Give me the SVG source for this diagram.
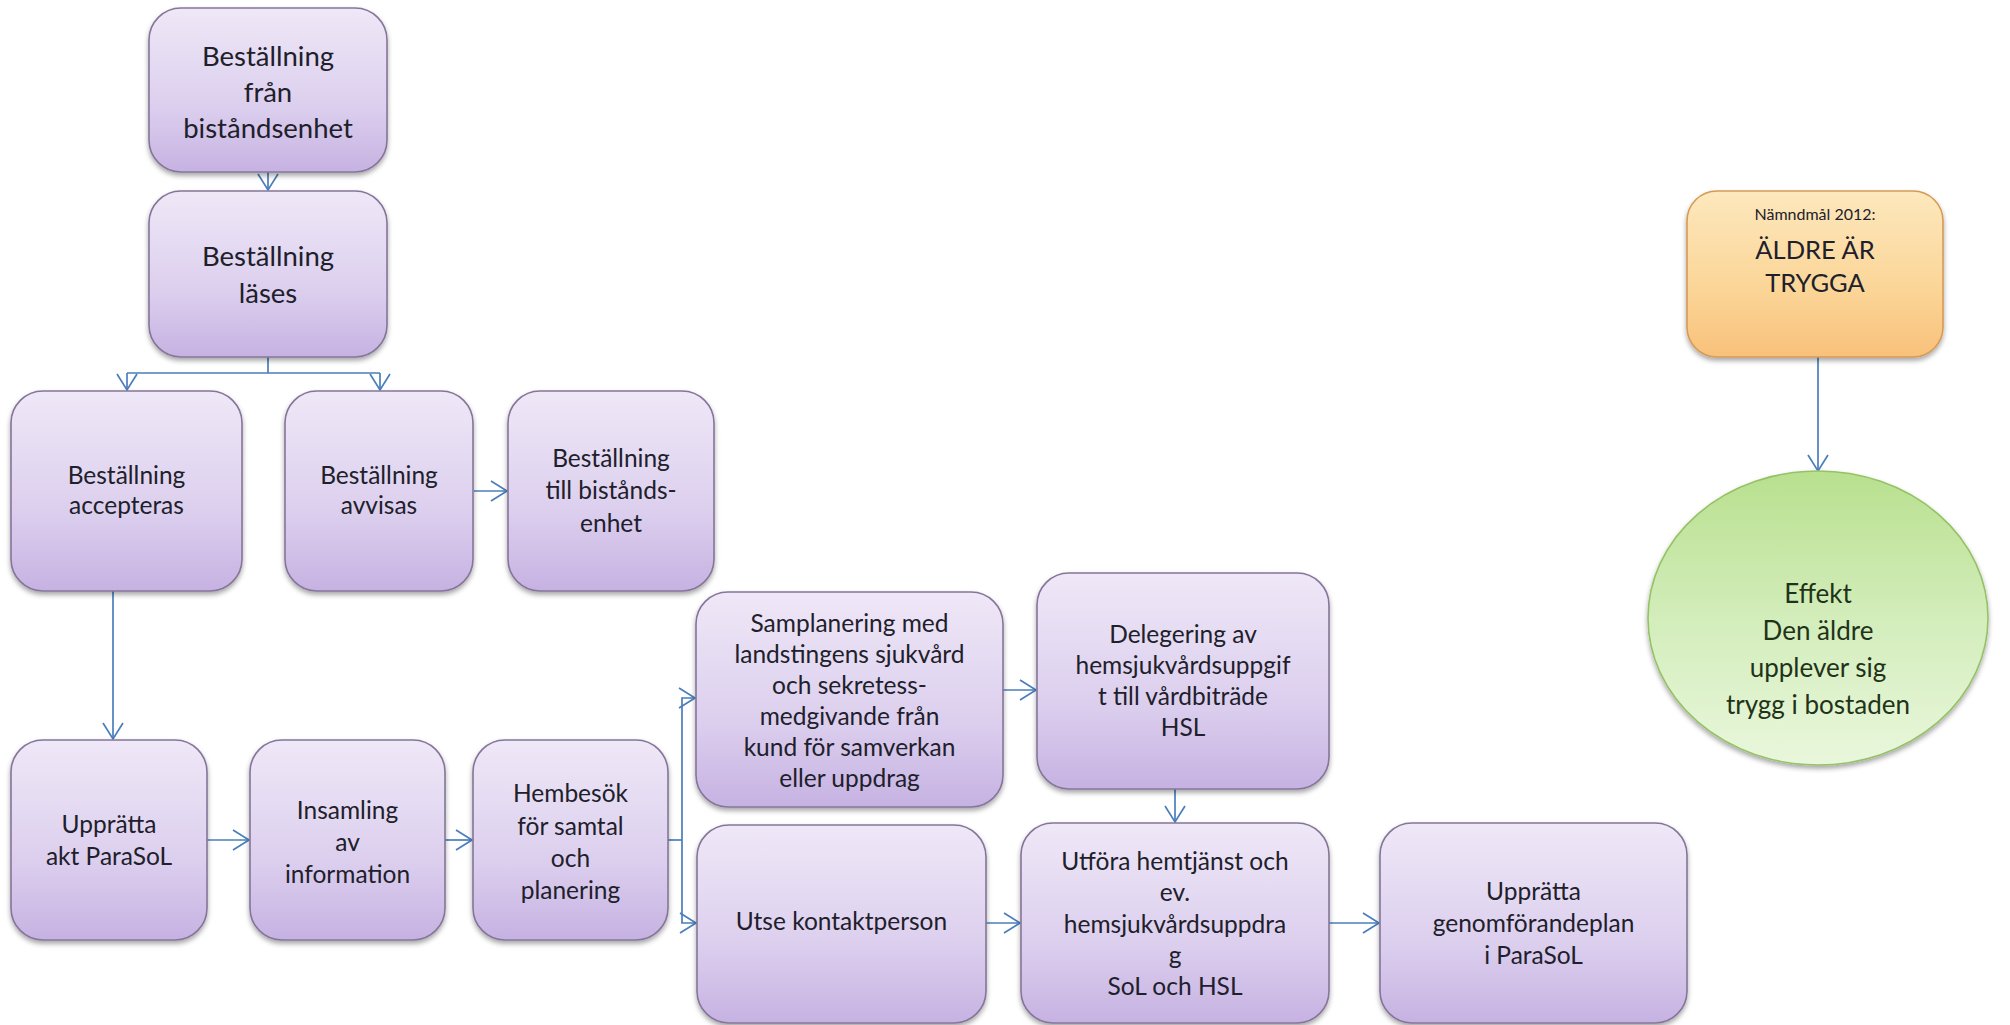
<svg xmlns="http://www.w3.org/2000/svg" width="2010" height="1025" viewBox="0 0 2010 1025">
<defs>
<style>
.box{fill:url(#gP);stroke:#85759a;stroke-width:1.6;filter:url(#sh)}
.t{font-family:Lato,"Open Sans","Liberation Sans",sans-serif;font-size:24.5px;fill:#20202b;text-anchor:middle}
.tb{font-size:27.5px}
.conn{stroke:#4a7ebb;stroke-width:1.7;fill:none}
.arr{marker-end:url(#ah)}
</style>
<linearGradient id="gP" x1="0" y1="0" x2="0" y2="1">
<stop offset="0" stop-color="#efe8f7"/>
<stop offset="0.6" stop-color="#dccfee"/>
<stop offset="1" stop-color="#c6b2e2"/>
</linearGradient>
<linearGradient id="gO" x1="0" y1="0" x2="0" y2="1">
<stop offset="0" stop-color="#fde8bd"/>
<stop offset="0.6" stop-color="#fbd597"/>
<stop offset="1" stop-color="#f8c17a"/>
</linearGradient>
<linearGradient id="gG" x1="0" y1="0" x2="0" y2="1">
<stop offset="0" stop-color="#b8e08e"/>
<stop offset="0.5" stop-color="#d3edbb"/>
<stop offset="1" stop-color="#e9f7dc"/>
</linearGradient>
<filter id="sh" x="-10%" y="-10%" width="120%" height="125%">
<feDropShadow dx="0" dy="3" stdDeviation="2.5" flood-color="#000" flood-opacity="0.35"/>
</filter>
<marker id="ah" markerWidth="20" markerHeight="22" refX="17" refY="11" orient="auto" markerUnits="userSpaceOnUse">
<path d="M1,1 L17,11 L1,21" fill="none" stroke="#4a7ebb" stroke-width="1.7"/>
</marker>
</defs>
<rect width="2010" height="1025" fill="#ffffff"/>

<g id="connectors">
<path class="conn arr" d="M268,172 V190"/>
<path class="conn" d="M268,357 V373 M127,373 H380"/>
<path class="conn arr" d="M127,373 V390"/>
<path class="conn arr" d="M380,373 V390"/>
<path class="conn arr" d="M474,491 H507"/>
<path class="conn arr" d="M113,576 V739"/>
<path class="conn arr" d="M207,840 H249"/>
<path class="conn arr" d="M445,840 H472"/>
<path class="conn" d="M668,840 H682"/>
<path class="conn arr" d="M682,840 V698 H695"/>
<path class="conn arr" d="M682,840 V923 H696"/>
<path class="conn arr" d="M1003,690 H1036"/>
<path class="conn arr" d="M1175,789 V822"/>
<path class="conn arr" d="M986,923 H1020"/>
<path class="conn arr" d="M1329,923 H1379"/>
<path class="conn arr" d="M1818,357 V471"/>
</g>

<g id="n-bestallning-fran">
<rect class="box" x="149" y="8" width="238" height="164" rx="32"/>
<text class="t tb"><tspan x="268" y="66">Beställning</tspan><tspan x="268" y="102">från</tspan><tspan x="268" y="138">biståndsenhet</tspan></text>
</g>
<g id="n-bestallning-lases">
<rect class="box" x="149" y="191" width="238" height="166" rx="32"/>
<text class="t tb"><tspan x="268" y="266">Beställning</tspan><tspan x="268" y="303">läses</tspan></text>
</g>
<g id="n-accepteras">
<rect class="box" x="11" y="391" width="231" height="200" rx="32"/>
<text class="t"><tspan x="126.5" y="484">Beställning</tspan><tspan x="126.5" y="514">accepteras</tspan></text>
</g>
<g id="n-avvisas">
<rect class="box" x="285" y="391" width="188" height="200" rx="32"/>
<text class="t"><tspan x="379" y="484">Beställning</tspan><tspan x="379" y="514">avvisas</tspan></text>
</g>
<g id="n-till-bistandsenhet">
<rect class="box" x="508" y="391" width="206" height="200" rx="32"/>
<text class="t"><tspan x="611" y="467">Beställning</tspan><tspan x="611" y="499">till bistånds-</tspan><tspan x="611" y="532">enhet</tspan></text>
</g>
<g id="n-uppratta-akt">
<rect class="box" x="11" y="740" width="196" height="200" rx="32"/>
<text class="t"><tspan x="109" y="833">Upprätta</tspan><tspan x="109" y="865">akt ParaSoL</tspan></text>
</g>
<g id="n-insamling">
<rect class="box" x="250" y="740" width="195" height="200" rx="32"/>
<text class="t"><tspan x="347.5" y="819">Insamling</tspan><tspan x="347.5" y="851">av</tspan><tspan x="347.5" y="883">information</tspan></text>
</g>
<g id="n-hembesok">
<rect class="box" x="473" y="740" width="195" height="200" rx="32"/>
<text class="t"><tspan x="570.5" y="802">Hembesök</tspan><tspan x="570.5" y="835">för samtal</tspan><tspan x="570.5" y="867">och</tspan><tspan x="570.5" y="899">planering</tspan></text>
</g>
<g id="n-samplanering">
<rect class="box" x="696" y="592" width="307" height="215" rx="32"/>
<text class="t"><tspan x="849.5" y="632">Samplanering med</tspan><tspan x="849.5" y="663">landstingens sjukvård</tspan><tspan x="849.5" y="694">och sekretess-</tspan><tspan x="849.5" y="725">medgivande från</tspan><tspan x="849.5" y="756">kund för samverkan</tspan><tspan x="849.5" y="787">eller uppdrag</tspan></text>
</g>
<g id="n-utse-kontaktperson">
<rect class="box" x="697" y="825" width="289" height="198" rx="32"/>
<text class="t"><tspan x="841.5" y="930">Utse kontaktperson</tspan></text>
</g>
<g id="n-delegering">
<rect class="box" x="1037" y="573" width="292" height="216" rx="32"/>
<text class="t"><tspan x="1183" y="643">Delegering av</tspan><tspan x="1183" y="674">hemsjukvårdsuppgif</tspan><tspan x="1183" y="705">t till vårdbiträde</tspan><tspan x="1183" y="736">HSL</tspan></text>
</g>
<g id="n-utfora">
<rect class="box" x="1021" y="823" width="308" height="200" rx="32"/>
<text class="t"><tspan x="1175" y="870">Utföra hemtjänst och</tspan><tspan x="1175" y="901">ev.</tspan><tspan x="1175" y="933">hemsjukvårdsuppdra</tspan><tspan x="1175" y="964">g</tspan><tspan x="1175" y="995">SoL och HSL</tspan></text>
</g>
<g id="n-genomforandeplan">
<rect class="box" x="1380" y="823" width="307" height="200" rx="32"/>
<text class="t"><tspan x="1533.5" y="900">Upprätta</tspan><tspan x="1533.5" y="932">genomförandeplan</tspan><tspan x="1533.5" y="964">i ParaSoL</tspan></text>
</g>
<g id="n-namndmal">
<rect x="1687" y="191" width="256" height="166" rx="30" fill="url(#gO)" stroke="#d59a55" stroke-width="1.6" filter="url(#sh)"/>
<text class="t" fill="#2b2b2b"><tspan x="1815" y="220" style="font-size:16px">Nämndmål 2012:</tspan><tspan x="1815" y="259" style="font-size:25.5px">ÄLDRE ÄR</tspan><tspan x="1815" y="292" style="font-size:25.5px">TRYGGA</tspan></text>
</g>
<g id="n-effekt">
<ellipse cx="1818" cy="618" rx="170" ry="147" fill="url(#gG)" stroke="#95c266" stroke-width="1.6" filter="url(#sh)"/>
<text class="t" style="font-size:26px;fill:#1f3319"><tspan x="1818" y="603">Effekt</tspan><tspan x="1818" y="640">Den äldre</tspan><tspan x="1818" y="677">upplever sig</tspan><tspan x="1818" y="714">trygg i bostaden</tspan></text>
</g>
</svg>
